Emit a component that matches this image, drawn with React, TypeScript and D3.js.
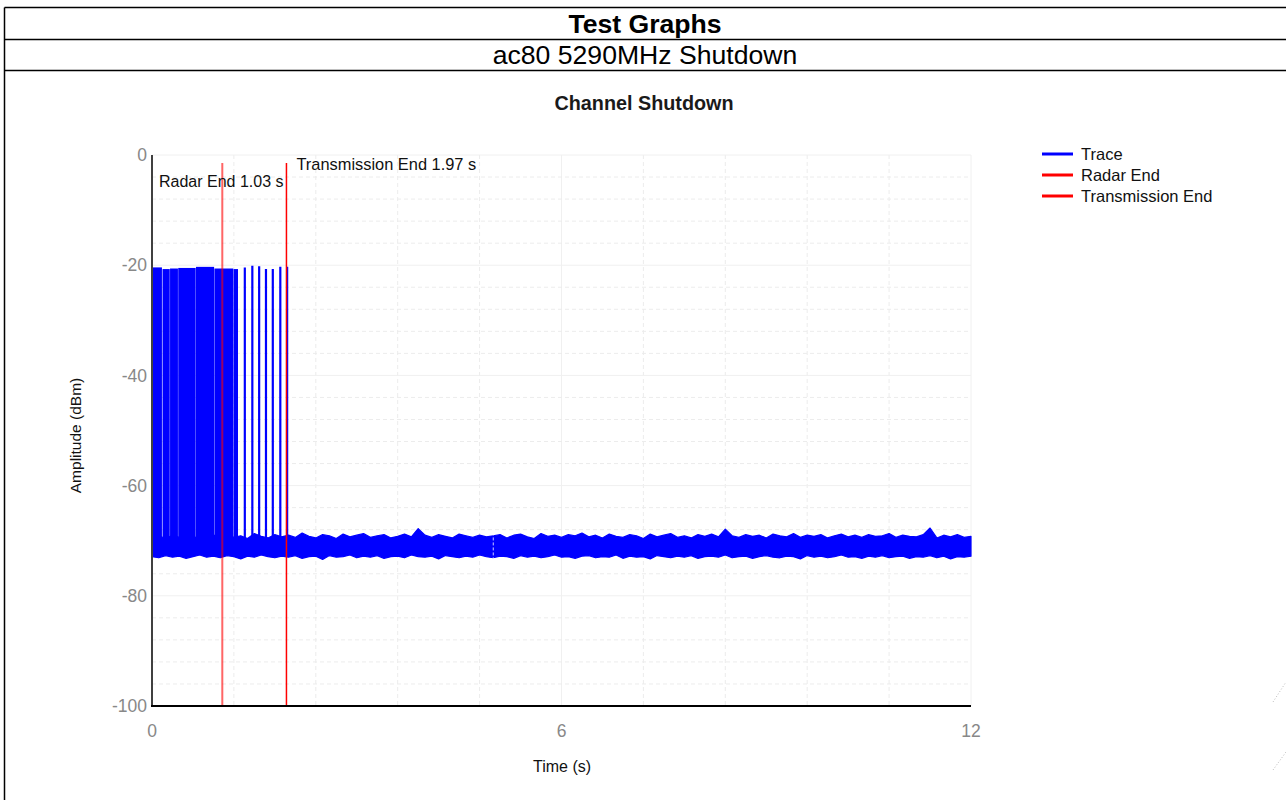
import React from 'react';
import * as d3 from 'd3';

const pageTitle = 'Test Graphs';
const pageSubtitle = 'ac80 5290MHz Shutdown';
const chartTitle = 'Channel Shutdown';
const xTitle = 'Time (s)';
const yTitle = 'Amplitude (dBm)';

const xTicks = [0, 6, 12];
const yTicks = [0, -20, -40, -60, -80, -100];

// vertical markers
const markerNames = ['Radar End', 'Transmission End'];
const markerTimes = [1.03, 1.97];

// noise floor envelope, one max/min pair per 0.1 s
const traceStep = 0.1;
const traceTop = [
  -69.3, -69.1, -69.6, -69.0, -69.4, -68.9, -69.5, -69.2, -69.7, -69.0,
  -69.3, -68.8, -69.4, -69.1, -69.6, -68.7, -69.2, -69.5, -68.9, -69.3,
  -69.0, -69.4, -68.6, -69.2, -69.5, -68.9, -69.1, -69.6, -68.8, -69.3,
  -69.0, -68.7, -69.4, -69.1, -68.9, -69.5, -69.2, -68.8, -69.3, -67.8,
  -69.0, -69.4, -68.9, -69.2, -69.5, -68.8, -69.1, -69.4, -69.0, -69.3,
  -69.1, -68.9, -69.5, -69.0, -68.8, -69.3, -69.6, -68.7, -69.2, -69.0,
  -69.4, -68.9, -69.1, -68.6, -69.3, -69.0, -69.5, -68.8, -69.2, -69.4,
  -68.9, -69.1, -69.6, -68.8, -69.3, -69.0, -68.7, -69.4, -69.1, -69.5,
  -68.9, -69.2, -68.8, -69.3, -67.9, -69.1, -69.4, -68.9, -69.2, -69.0,
  -69.5, -68.8, -69.1, -69.3, -68.7, -69.4, -69.0, -69.2, -68.9, -69.5,
  -69.1, -68.8, -69.3, -69.0, -69.4, -68.9, -69.2, -69.1, -68.7, -69.4,
  -69.0, -69.2, -69.3, -68.9, -67.7, -69.5, -69.0, -69.3, -68.9, -69.4,
  -69.2,
];
const traceLow = [
  -72.9, -73.1, -72.7, -73.0, -72.8, -73.2, -72.9, -72.6, -73.0, -72.8,
  -73.1, -72.7, -72.9, -73.3, -72.8, -73.0, -72.6, -72.9, -73.1, -72.8,
  -73.0, -72.7, -73.2, -72.9, -72.8, -73.4, -72.7, -73.0, -72.9, -72.6,
  -73.1, -72.8, -73.0, -72.7, -73.2, -72.9, -72.8, -73.1, -72.6, -72.9,
  -73.0, -72.8, -73.3, -72.7, -72.9, -73.1, -72.8, -73.0, -72.6, -72.9,
  -73.1, -72.8, -72.9, -73.2, -72.7, -73.0, -72.8, -73.1, -72.9, -72.6,
  -73.0, -72.9, -73.2, -72.8, -72.7, -73.1, -72.9, -73.0, -72.6, -73.2,
  -72.8, -73.0, -72.9, -73.3, -72.7, -72.9, -73.1, -72.8, -73.0, -72.7,
  -73.2, -72.9, -72.8, -73.0, -72.6, -73.1, -72.9, -72.8, -73.2, -72.9,
  -72.7, -73.0, -73.1, -72.8, -72.9, -73.3, -72.7, -73.0, -72.8, -73.1,
  -72.9, -72.6, -73.0, -72.9, -73.2, -72.8, -73.0, -72.7, -73.1, -72.9,
  -72.8, -73.2, -72.9, -73.0, -72.7, -73.1, -72.8, -73.3, -72.9, -73.0,
  -72.8,
];
const traceGapTimes = [5.0];

// dense pulse bursts before radar end
const burstStarts = [0, 0.15, 0.26, 0.38, 0.64, 0.91, 1.19];
const burstEnds = [0.15, 0.26, 0.38, 0.64, 0.91, 1.19, 1.26];
const burstPeaks = [-20.4, -20.7, -20.6, -20.5, -20.3, -20.6, -20.7];

// isolated pulses before transmission end
const pulseTimes = [1.36, 1.47, 1.57, 1.67, 1.77, 1.88, 1.98];
const pulsePeaks = [-20.4, -20.1, -20.2, -20.7, -20.7, -20.3, -20.3];

const legendNames = ['Trace', 'Radar End', 'Transmission End'];
const legendColors = ['#0000ff', '#ff0000', '#ff0000'];

const W = 1286;
const H = 800;
const FONT = '"Liberation Sans", Arial, sans-serif';
const plot = { left: 152, right: 971, top: 155, bottom: 706 };

export default function App() {
  const x = d3.scaleLinear().domain([0, 12]).range([plot.left, plot.right]);
  const y = d3.scaleLinear().domain([-100, 0]).range([plot.bottom, plot.top]);

  const xMinor = d3.range(0, 12.001, 1.2);
  const yMinor = d3.range(-100, 0.001, 4);
  const isMajor = (list: number[], v: number) => list.some((t) => Math.abs(t - v) < 1e-6);

  const band = traceTop.map((t, i) => ({ t: i * traceStep, hi: t, lo: traceLow[i] }));
  const area = d3
    .area<{ t: number; hi: number; lo: number }>()
    .x((d) => x(d.t))
    .y0((d) => y(d.lo))
    .y1((d) => y(d.hi));

  return (
    <svg
      width={W}
      height={H}
      style={{ position: 'absolute', left: 0, top: 0, display: 'block', background: '#fff' }}
      fontFamily={FONT}
    >
      {/* report table frame */}
      <g stroke="#000" strokeWidth={1.5} fill="none">
        <line x1={4.5} y1={7.5} x2={W + 10} y2={7.5} />
        <line x1={4.5} y1={7.5} x2={4.5} y2={H + 10} />
        <line x1={4.5} y1={39.5} x2={W + 10} y2={39.5} />
        <line x1={4.5} y1={70.5} x2={W + 10} y2={70.5} />
      </g>
      <text x={645} y={32.5} textAnchor="middle" fontSize={26.6} fontWeight="bold" fill="#000">
        {pageTitle}
      </text>
      <text x={645} y={64} textAnchor="middle" fontSize={26.6} fill="#000">
        {pageSubtitle}
      </text>

      <text x={644} y={110} textAnchor="middle" fontSize={19.8} fontWeight="bold" fill="#1a1a1a">
        {chartTitle}
      </text>

      {/* grid */}
      <g>
        {xMinor.map((v, i) => (
          <line
            key={'xm' + i}
            x1={x(v)}
            x2={x(v)}
            y1={plot.top}
            y2={plot.bottom}
            stroke={isMajor(xTicks, v) ? '#f0f0f0' : '#ececec'}
            strokeWidth={1}
            strokeDasharray={isMajor(xTicks, v) ? undefined : '4,3'}
          />
        ))}
        {yMinor.map((v, i) => (
          <line
            key={'ym' + i}
            x1={plot.left}
            x2={plot.right}
            y1={y(v)}
            y2={y(v)}
            stroke={isMajor(yTicks, v) ? '#f0f0f0' : '#ececec'}
            strokeWidth={1}
            strokeDasharray={isMajor(yTicks, v) ? undefined : '4,3'}
          />
        ))}
      </g>

      {/* trace */}
      <g fill="#0000ff">
        {burstStarts.map((s, i) => (
          <rect
            key={'b' + i}
            x={x(s) + (i > 0 ? 0.3 : 0)}
            width={x(burstEnds[i]) - x(s) - 0.3}
            y={y(burstPeaks[i])}
            height={y(-72.5) - y(burstPeaks[i])}
          />
        ))}
        <path d={area(band) ?? ''} stroke="#0000ff" strokeWidth={1.2} strokeLinejoin="round" />
      </g>
      {pulseTimes.map((t, i) => (
        <line
          key={'p' + i}
          x1={x(t)}
          x2={x(t)}
          y1={y(pulsePeaks[i])}
          y2={y(-71)}
          stroke="#0000ff"
          strokeWidth={2.2}
        />
      ))}
      {traceGapTimes.map((t, i) => (
        <line
          key={'g' + i}
          x1={x(t)}
          x2={x(t)}
          y1={y(-68.5)}
          y2={y(-73.5)}
          stroke="#fff"
          strokeWidth={1}
          strokeDasharray="3,2"
          opacity={0.8}
        />
      ))}

      {/* markers */}
      {markerTimes.map((t, i) => (
        <line
          key={'m' + i}
          x1={x(t)}
          x2={x(t)}
          y1={163}
          y2={plot.bottom}
          stroke="#ff0000"
          strokeWidth={i === 0 ? 2 : 1.5}
          opacity={i === 0 ? 0.6 : 1}
        />
      ))}
      <text x={159} y={187} fontSize={16} fill="#111">
        {`${markerNames[0]} ${markerTimes[0].toFixed(2)} s`}
      </text>
      <text x={x(markerTimes[1]) + 10} y={170} fontSize={16.4} fill="#111">
        {`${markerNames[1]} ${markerTimes[1].toFixed(2)} s`}
      </text>

      {/* axes */}
      <line x1={plot.left} x2={plot.left} y1={plot.top} y2={plot.bottom + 1} stroke="#404040" strokeWidth={2} />
      <line x1={plot.left - 1} x2={plot.right} y1={plot.bottom} y2={plot.bottom} stroke="#000" strokeWidth={2} />
      {yTicks.map((v) => (
        <text key={'yt' + v} x={147} y={y(v)} dy="0.35em" textAnchor="end" fontSize={17.5} fill="#888">
          {v}
        </text>
      ))}
      {xTicks.map((v) => (
        <text key={'xt' + v} x={x(v)} y={731} dy="0.35em" textAnchor="middle" fontSize={17.5} fill="#888">
          {v}
        </text>
      ))}
      <text x={562} y={772} textAnchor="middle" fontSize={16} fill="#111">
        {xTitle}
      </text>
      <text
        transform={`translate(81,${(plot.top + plot.bottom) / 2 + 5}) rotate(-90)`}
        textAnchor="middle"
        fontSize={15.5}
        fill="#111"
      >
        {yTitle}
      </text>

      {/* legend */}
      {legendNames.map((n, i) => (
        <g key={'l' + i} transform={`translate(1042,${154 + i * 21})`}>
          <line x1={0} x2={31} y1={0} y2={0} stroke={legendColors[i]} strokeWidth={3} />
          <text x={39} y={0} dy="0.35em" fontSize={16.5} fill="#111">
            {n}
          </text>
        </g>
      ))}

      {/* corner artefacts */}
      <g stroke="#bbb" strokeWidth={1} strokeDasharray="1,2" fill="none">
        <path d="M1273,702 L1286,682" />
        <path d="M1273,770 L1286,752" />
      </g>
    </svg>
  );
}
